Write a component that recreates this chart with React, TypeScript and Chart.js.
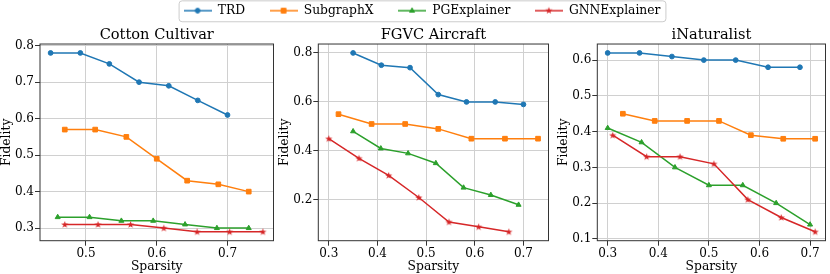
import React, { useEffect, useRef } from "react";
import { Chart, registerables } from "chart.js";
Chart.register(...registerables);

// ---------------- data ----------------
const seriesNames = ["TRD", "SubgraphX", "PGExplainer", "GNNExplainer"];
const seriesColors = ["#1f77b4", "#ff7f0e", "#2ca02c", "#d62728"];
const panelTitles = ["Cotton Cultivar", "FGVC Aircraft", "iNaturalist"];
const xAxisLabel = "Sparsity";
const yAxisLabel = "Fidelity";

// Cotton Cultivar
const cottonTrdX = [0.45, 0.492, 0.533, 0.575, 0.617, 0.658, 0.7];
const cottonTrdY = [0.78, 0.78, 0.75, 0.7, 0.69, 0.65, 0.61];
const cottonSubX = [0.47, 0.513, 0.557, 0.6, 0.643, 0.687, 0.73];
const cottonSubY = [0.57, 0.57, 0.55, 0.49, 0.43, 0.42, 0.4];
const cottonPgX = [0.46, 0.505, 0.55, 0.595, 0.64, 0.685, 0.73];
const cottonPgY = [0.33, 0.33, 0.32, 0.32, 0.31, 0.3, 0.3];
const cottonGnnX = [0.47, 0.517, 0.563, 0.61, 0.657, 0.703, 0.75];
const cottonGnnY = [0.31, 0.31, 0.31, 0.3, 0.29, 0.29, 0.29];
const cottonXTicks = [0.5, 0.6, 0.7];
const cottonYTicks = [0.3, 0.4, 0.5, 0.6, 0.7, 0.8];

// FGVC Aircraft
const fgvcTrdX = [0.35, 0.408, 0.467, 0.525, 0.583, 0.642, 0.7];
const fgvcTrdY = [0.8, 0.75, 0.74, 0.63, 0.6, 0.6, 0.59];
const fgvcSubX = [0.32, 0.388, 0.457, 0.525, 0.593, 0.662, 0.73];
const fgvcSubY = [0.55, 0.51, 0.51, 0.49, 0.45, 0.45, 0.45];
const fgvcPgX = [0.35, 0.407, 0.463, 0.52, 0.577, 0.633, 0.69];
const fgvcPgY = [0.48, 0.41, 0.39, 0.35, 0.25, 0.22, 0.18];
const fgvcGnnX = [0.3, 0.362, 0.423, 0.485, 0.547, 0.608, 0.67];
const fgvcGnnY = [0.45, 0.37, 0.3, 0.21, 0.11, 0.09, 0.07];
const fgvcXTicks = [0.3, 0.4, 0.5, 0.6, 0.7];
const fgvcYTicks = [0.2, 0.4, 0.6, 0.8];

// iNaturalist
const inatTrdX = [0.3, 0.363, 0.427, 0.49, 0.553, 0.617, 0.68];
const inatTrdY = [0.62, 0.62, 0.61, 0.6, 0.6, 0.58, 0.58];
const inatSubX = [0.33, 0.393, 0.457, 0.52, 0.583, 0.647, 0.71];
const inatSubY = [0.45, 0.43, 0.43, 0.43, 0.39, 0.38, 0.38];
const inatPgX = [0.3, 0.367, 0.433, 0.5, 0.567, 0.633, 0.7];
const inatPgY = [0.41, 0.37, 0.3, 0.25, 0.25, 0.2, 0.14];
const inatGnnX = [0.31, 0.377, 0.443, 0.51, 0.577, 0.643, 0.71];
const inatGnnY = [0.39, 0.33, 0.33, 0.31, 0.21, 0.16, 0.12];
const inatXTicks = [0.3, 0.4, 0.5, 0.6, 0.7];
const inatYTicks = [0.1, 0.2, 0.3, 0.4, 0.5, 0.6];

// ---------------- styling ----------------
const FONT_FAMILY = "'DejaVu Serif', 'Liberation Serif', serif";
const TEXT_COLOR = "#000000";
const GRID_COLOR = "#d0d0d0";
const FRAME_COLOR = "#333333";
const markerKinds = ["circle", "rect", "triangle", "star"];

function drawStarPath(ctx: CanvasRenderingContext2D, cx: number, cy: number, R: number, r: number) {
  ctx.beginPath();
  for (let i = 0; i < 10; i++) {
    const rad = (Math.PI / 5) * i - Math.PI / 2;
    const rr = i % 2 === 0 ? R : r;
    const px = cx + Math.cos(rad) * rr;
    const py = cy + Math.sin(rad) * rr;
    if (i === 0) ctx.moveTo(px, py);
    else ctx.lineTo(px, py);
  }
  ctx.closePath();
}

function drawMarker(ctx: CanvasRenderingContext2D, kind: string, cx: number, cy: number, color: string) {
  ctx.fillStyle = color;
  ctx.strokeStyle = color;
  ctx.lineWidth = 1;
  if (kind === "circle") {
    ctx.beginPath();
    ctx.arc(cx, cy, 2.4, 0, Math.PI * 2);
  } else if (kind === "rect") {
    ctx.beginPath();
    ctx.rect(cx - 2.4, cy - 2.4, 4.8, 4.8);
  } else if (kind === "triangle") {
    ctx.beginPath();
    ctx.moveTo(cx, cy - 2.8);
    ctx.lineTo(cx + 2.5, cy + 1.5);
    ctx.lineTo(cx - 2.5, cy + 1.5);
    ctx.closePath();
  } else {
    drawStarPath(ctx, cx, cy, 3.8, 1.5);
    ctx.fill();
    return;
  }
  ctx.fill();
  ctx.stroke();
}

function makeStarImage(color: string) {
  const c = document.createElement("canvas");
  c.width = 9;
  c.height = 9;
  const ctx = c.getContext("2d")!;
  drawStarPath(ctx, 4.5, 4.8, 3.8, 1.5);
  ctx.fillStyle = color;
  ctx.fill();
  return c;
}

function makeLegendImage(color: string, kind: string) {
  const c = document.createElement("canvas");
  c.width = 28;
  c.height = 12;
  const ctx = c.getContext("2d")!;
  ctx.strokeStyle = color;
  ctx.lineWidth = 1.5;
  ctx.beginPath();
  ctx.moveTo(0, 6);
  ctx.lineTo(28, 6);
  ctx.stroke();
  drawMarker(ctx, kind, 14, 6, color);
  return c;
}

function padRange(arrs: number[][]): [number, number] {
  const all = arrs.flat();
  const mn = Math.min(...all);
  const mx = Math.max(...all);
  const m = (mx - mn) * 0.05;
  return [mn - m, mx + m];
}

const framePlugin = {
  id: "axesFrame",
  afterDraw(chart: any) {
    const { ctx, chartArea: a } = chart;
    ctx.save();
    ctx.strokeStyle = FRAME_COLOR;
    ctx.lineWidth = 1;
    ctx.strokeRect(a.left, a.top, a.right - a.left, a.bottom - a.top);
    ctx.restore();
  },
};

const legendFramePlugin = {
  id: "legendFrame",
  afterDraw(chart: any) {
    const lg = chart.legend;
    if (!lg || !lg.legendHitBoxes || !lg.legendHitBoxes.length) return;
    const hb = lg.legendHitBoxes;
    const first = hb[0];
    const last = hb[hb.length - 1];
    const left = first.left - 4.5;
    const right = last.left + last.width + 5.5;
    const mid = first.top + first.height / 2;
    const top = mid - 9.8;
    const bottom = mid + 11.1;
    const ctx = chart.ctx;
    ctx.save();
    ctx.strokeStyle = "#cccccc";
    ctx.lineWidth = 1;
    ctx.beginPath();
    (ctx as any).roundRect(left, top, right - left, bottom - top, 3);
    ctx.stroke();
    ctx.restore();
  },
};

type PanelCfg = {
  title: string;
  left: number;
  width: number;
  padRight: number;
  yWidth: number;
  xs: number[][];
  ys: number[][];
  xTicks: number[];
  yTicks: number[];
};

const panels: PanelCfg[] = [
  {
    title: panelTitles[0], left: 0, width: 278, padRight: 3, yWidth: 40,
    xs: [cottonTrdX, cottonSubX, cottonPgX, cottonGnnX],
    ys: [cottonTrdY, cottonSubY, cottonPgY, cottonGnnY],
    xTicks: cottonXTicks, yTicks: cottonYTicks,
  },
  {
    title: panelTitles[1], left: 278, width: 275, padRight: 3, yWidth: 40.3,
    xs: [fgvcTrdX, fgvcSubX, fgvcPgX, fgvcGnnX],
    ys: [fgvcTrdY, fgvcSubY, fgvcPgY, fgvcGnnY],
    xTicks: fgvcXTicks, yTicks: fgvcYTicks,
  },
  {
    title: panelTitles[2], left: 557, width: 273, padRight: 1.3, yWidth: 40.3,
    xs: [inatTrdX, inatSubX, inatPgX, inatGnnX],
    ys: [inatTrdY, inatSubY, inatPgY, inatGnnY],
    xTicks: inatXTicks, yTicks: inatYTicks,
  },
];

const CANVAS_H = 274;
const X_AXIS_H = 33.3;

function Panel({ cfg }: { cfg: PanelCfg }) {
  const ref = useRef<HTMLCanvasElement | null>(null);
  useEffect(() => {
    const [xmin, xmax] = padRange(cfg.xs);
    const [ymin, ymax] = padRange(cfg.ys);
    const star = makeStarImage(seriesColors[3]);
    const pointStyles: any[] = ["circle", "rect", "triangle", star];
    const radii = [2.4, 3.3, 2.9, 4.5];
    const datasets = seriesNames.map((name, i) => ({
      label: name,
      data: cfg.xs[i].map((x, j) => ({ x, y: cfg.ys[i][j] })),
      borderColor: seriesColors[i],
      backgroundColor: seriesColors[i],
      borderWidth: 1.5,
      pointStyle: pointStyles[i],
      pointRadius: radii[i],
      pointHoverRadius: radii[i],
      pointBorderWidth: i === 3 ? 0 : 1,
      pointBackgroundColor: seriesColors[i],
      pointBorderColor: seriesColors[i],
      tension: 0,
      fill: false,
      order: 3 - i,
    }));
    const tickFont = { family: FONT_FAMILY, size: 12 };
    const labelFont = { family: FONT_FAMILY, size: 12.3 };
    const chart = new Chart(ref.current!, {
      type: "line",
      data: { datasets },
      options: {
        responsive: false,
        animation: false,
        devicePixelRatio: 1,
        layout: { padding: { left: 0, right: cfg.padRight, top: 0, bottom: 0 } },
        plugins: {
          legend: { display: false },
          tooltip: { enabled: false },
          title: {
            display: true,
            text: cfg.title,
            fullSize: false,
            color: TEXT_COLOR,
            font: { family: FONT_FAMILY, size: 14.6, weight: "normal" },
            padding: { top: 26.1, bottom: 0.4 },
          },
        },
        scales: {
          x: {
            type: "linear",
            min: xmin,
            max: xmax,
            afterBuildTicks: (s: any) => {
              s.ticks = cfg.xTicks.map((v) => ({ value: v }));
            },
            afterFit: (s: any) => {
              s.height = X_AXIS_H;
            },
            ticks: {
              font: tickFont,
              color: TEXT_COLOR,
              padding: 1,
              maxRotation: 0,
              callback: (v: any) => Number(v).toFixed(1),
            },
            grid: { color: GRID_COLOR, lineWidth: 1, tickColor: FRAME_COLOR, tickLength: 5 },
            border: { display: false },
            title: {
              display: true,
              text: xAxisLabel,
              color: TEXT_COLOR,
              font: labelFont,
              padding: { top: 0, bottom: 0.3 },
            },
          },
          y: {
            type: "linear",
            min: ymin,
            max: ymax,
            afterBuildTicks: (s: any) => {
              s.ticks = cfg.yTicks.map((v) => ({ value: v }));
            },
            afterFit: (s: any) => {
              s.width = cfg.yWidth;
            },
            ticks: {
              font: tickFont,
              color: TEXT_COLOR,
              padding: 1,
              callback: (v: any) => Number(v).toFixed(1),
            },
            grid: { color: GRID_COLOR, lineWidth: 1, tickColor: FRAME_COLOR, tickLength: 5 },
            border: { display: false },
            title: {
              display: true,
              text: yAxisLabel,
              color: TEXT_COLOR,
              font: labelFont,
              padding: { top: -0.6, bottom: 0 },
            },
          },
        },
      } as any,
      plugins: [framePlugin],
    });
    return () => chart.destroy();
  }, []);
  return (
    <canvas
      ref={ref}
      width={cfg.width}
      height={CANVAS_H}
      style={{ position: "absolute", left: cfg.left, top: 0, width: cfg.width, height: CANVAS_H }}
    />
  );
}

function LegendChart() {
  const ref = useRef<HTMLCanvasElement | null>(null);
  useEffect(() => {
    const images = seriesNames.map((_, i) => makeLegendImage(seriesColors[i], markerKinds[i]));
    const chart = new Chart(ref.current!, {
      type: "line",
      data: {
        datasets: seriesNames.map((name, i) => ({
          label: name,
          data: [],
          borderColor: seriesColors[i],
          backgroundColor: seriesColors[i],
        })),
      },
      options: {
        responsive: false,
        animation: false,
        devicePixelRatio: 1,
        layout: { padding: { left: 14, right: 0, top: 0, bottom: 0 } },
        scales: { x: { display: false }, y: { display: false } },
        plugins: {
          tooltip: { enabled: false },
          legend: {
            display: true,
            position: "top",
            align: "center",
            labels: {
              usePointStyle: true,
              pointStyleWidth: 28,
              padding: 24.5,
              color: TEXT_COLOR,
              font: { family: FONT_FAMILY, size: 12.3 },
              generateLabels: () =>
                seriesNames.map((name, i) => ({
                  text: name,
                  fillStyle: seriesColors[i],
                  strokeStyle: seriesColors[i],
                  lineWidth: 0,
                  pointStyle: images[i],
                  datasetIndex: i,
                  hidden: false,
                  fontColor: TEXT_COLOR,
                })),
            },
          },
        },
      } as any,
      plugins: [legendFramePlugin],
    });
    return () => chart.destroy();
  }, []);
  return (
    <canvas
      ref={ref}
      width={830}
      height={80}
      style={{ position: "absolute", left: 0, top: -20.5, width: 830, height: 80 }}
    />
  );
}

export default function App() {
  return (
    <div
      style={{
        position: "absolute",
        left: 0,
        top: 0,
        width: 830,
        height: 274,
        overflow: "hidden",
        background: "#ffffff",
      }}
    >
      {panels.map((p) => (
        <Panel key={p.title} cfg={p} />
      ))}
      <LegendChart />
    </div>
  );
}
